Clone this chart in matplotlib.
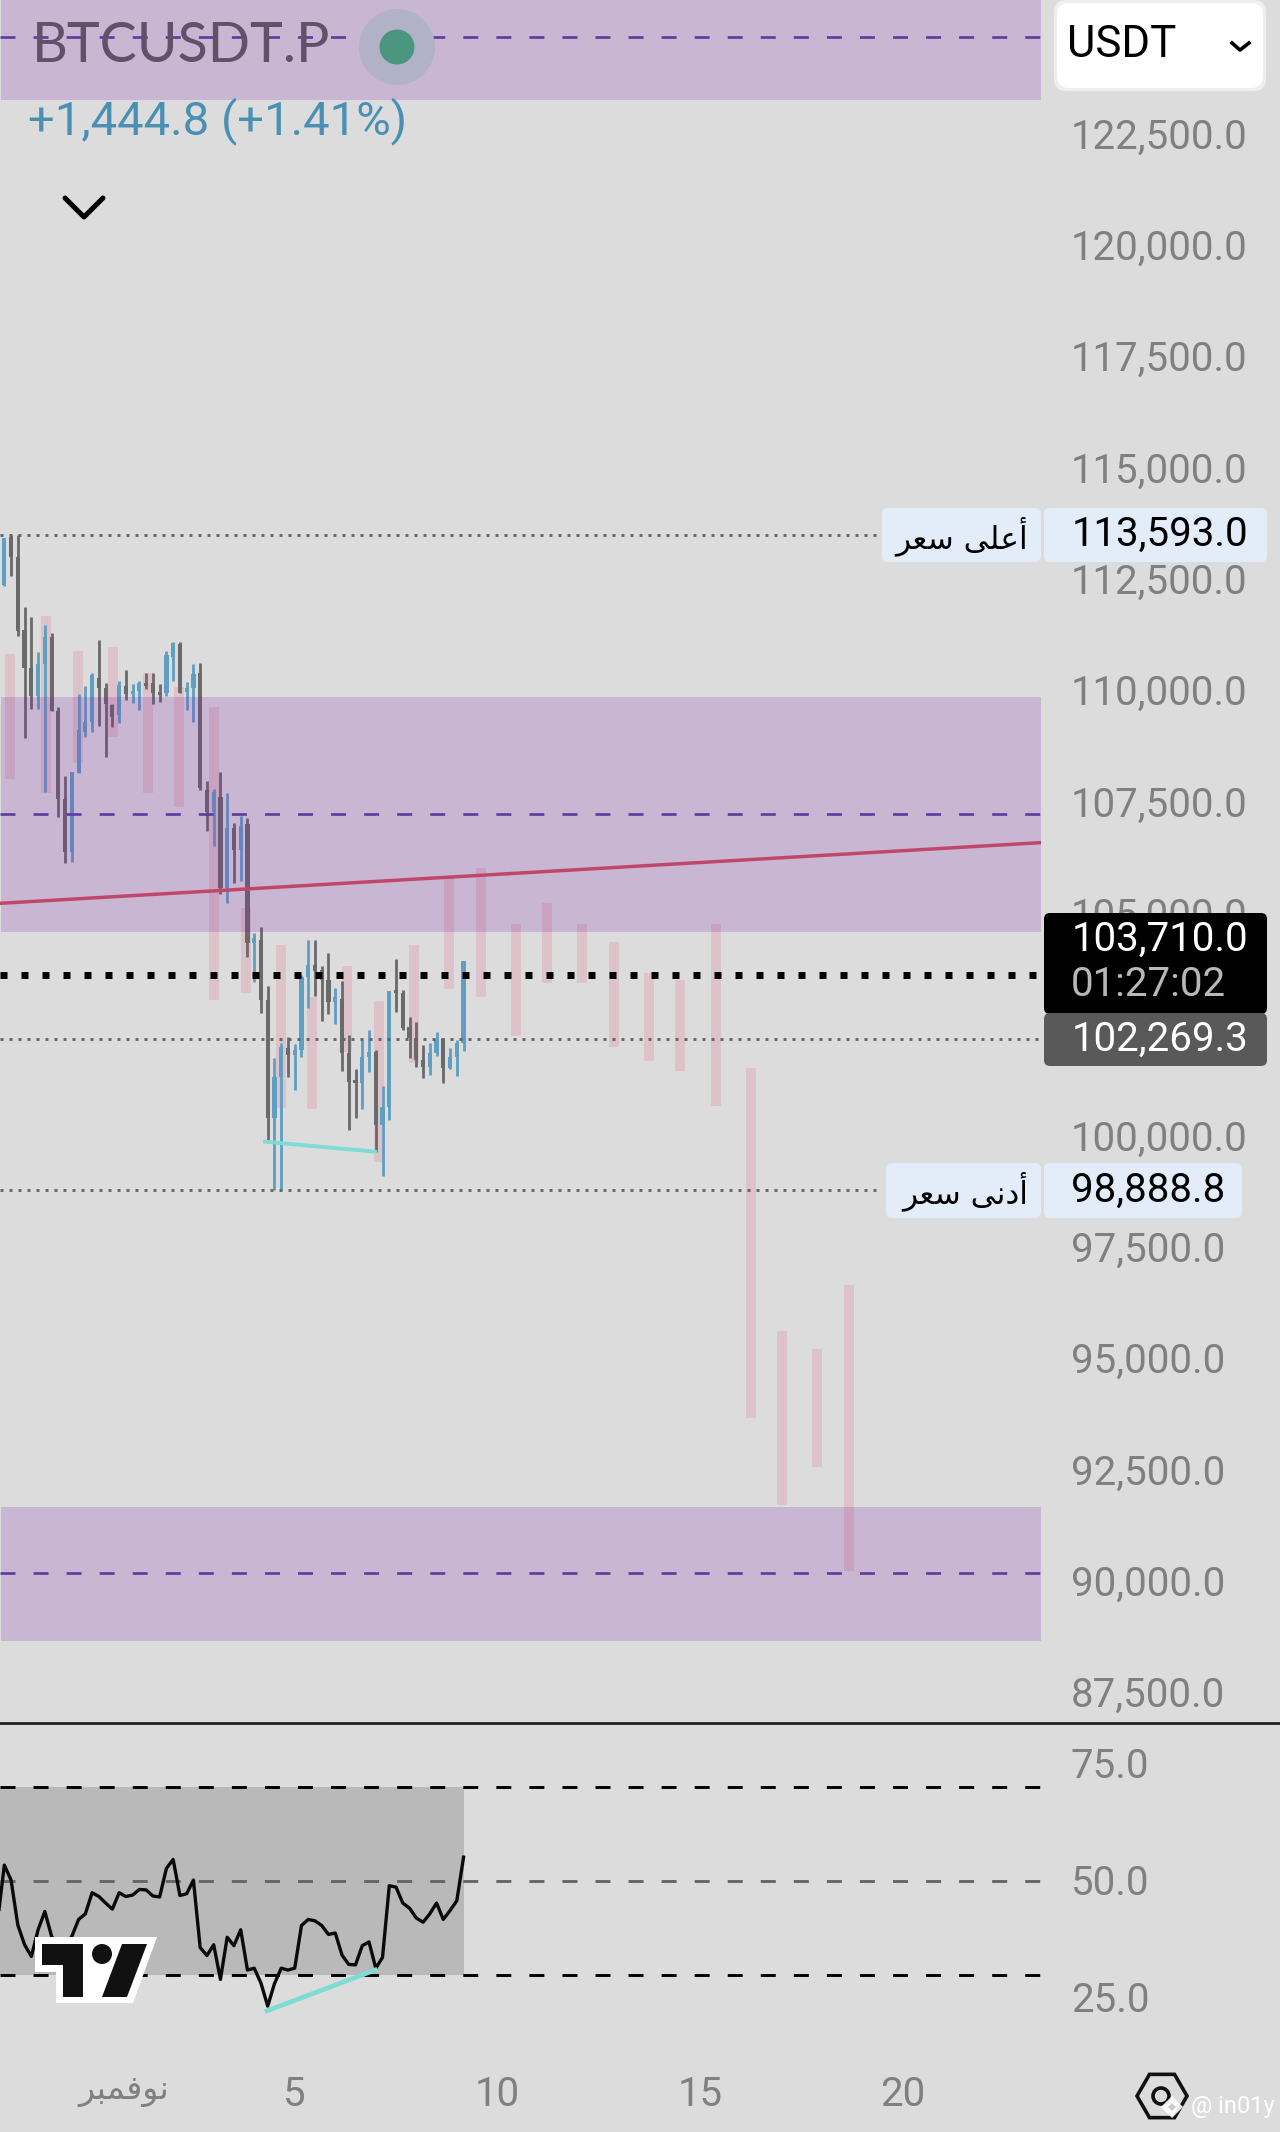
import numpy as np
import matplotlib.pyplot as plt
from matplotlib.patches import FancyBboxPatch, Circle, Polygon, RegularPolygon
from matplotlib.transforms import ScaledTranslation

plt.rcParams['font.family'] = ['Roboto', 'DejaVu Sans']
plt.rcParams['lines.scale_dashes'] = False

BG = '#dcdcdc'
ZONE = '#7d1eaa'
BLUE = '#5f9fc2'
GREY = '#6a6a6a'

# 4h candles, left to right
opens = [112471, 113556, 113092, 111461, 110600, 109979, 110690, 111311, 109650, 107659,
         106484, 108243, 109178, 109403, 110376, 110151, 109777, 109552, 110203, 110016,
         110091, 110263, 110263, 110076, 110039, 110862, 111146, 110076, 110151, 110488,
         107869, 107382, 107719, 105661, 107008, 106522, 107106, 104426, 104501, 103154,
         100498, 101433, 102069, 101919, 102032, 103663, 103940, 103828, 103603, 103117,
         103169, 101972, 101358, 101298, 101867, 101994, 100348, 100745, 103379, 103319,
         102541, 102294, 101807, 101657, 101957, 102271, 101620, 101882, 102181]
highs = [113518, 113593, 113593, 111969, 111745, 110959, 111573, 111401, 109725, 108183,
         108280, 110024, 110203, 110488, 111236, 110263, 109799, 110316, 110563, 110248,
         110308, 110488, 110488, 110248, 110989, 111184, 111199, 110301, 110697, 110712,
         108078, 107884, 108280, 107794, 107120, 107285, 107248, 104651, 104785, 103468,
         101845, 102181, 102316, 102159, 103715, 104501, 104501, 103917, 104202, 103416,
         103581, 102368, 101605, 102256, 102481, 102032, 101223, 103356, 104067, 103379,
         102780, 102653, 102144, 102181, 102428, 102294, 102084, 102256, 104030]
lows = [112456, 112680, 111333, 109044, 109695, 109695, 107831, 109650, 107270, 106223,
        106260, 108243, 109066, 109178, 109305, 108617, 109291, 109365, 109889, 109814,
        109665, 110136, 109807, 109852, 109986, 110323, 110054, 109665, 109388, 107869,
        106956, 106612, 105527, 105325, 105774, 105833, 104127, 103566, 102870, 100011,
        98889, 98889, 101433, 101134, 101882, 102982, 103244, 102690, 102840, 102615,
        101560, 100236, 100513, 100700, 101545, 99749, 99211, 100460, 102892, 102481,
        101860, 101657, 101411, 101470, 101904, 101298, 101613, 101455, 102017]
closes = [113518, 113092, 111446, 110600, 109979, 110690, 111311, 109650, 107659, 106484,
          108280, 109216, 109403, 110450, 110151, 109799, 109515, 110226, 110016, 110091,
          110263, 110211, 110039, 110001, 110899, 111161, 110054, 110151, 110473, 107906,
          107382, 107831, 105661, 107008, 106522, 107061, 104426, 104538, 103154, 100498,
          101433, 102106, 101919, 102032, 103678, 103940, 103813, 103603, 103117, 103229,
          101972, 101321, 101283, 101882, 101994, 100348, 100745, 103356, 103319, 102518,
          102294, 101807, 101657, 101957, 102271, 101620, 101882, 102181, 104030]

# pale bars from the other timeframe
pale_x = [0.9, 6.2, 10.9, 16.1, 21.3, 25.8, 31.1, 35.8, 41.0, 45.6, 50.8, 55.5, 60.7,
          65.9, 70.6, 75.8, 80.4, 85.6, 90.3, 95.5, 100.1, 105.4, 110.6, 115.2, 120.4, 125.1]
pale_top = [110922, 111775, 110997, 111086, 110488, 110188, 109740, 105220, 104389, 103229,
            103925, 103132, 104389, 105916, 106118, 104854, 105326, 104854, 104450, 103754,
            103604, 104854, 101630, 95724, 95319, 96765]
pale_bot = [108108, 107794, 108467, 109051, 107794, 107480, 103154, 103312, 100722, 100700,
            101994, 99525, 101732, 103394, 103229, 102353, 103543, 103543, 102106, 101792,
            101567, 100782, 93773, 91808, 92675, 90327]

zones = [(123359, 126000, 124774), (104674, 109964, 107323), (88764, 91772, 90279)]
trend_x = [-0.64, 153.5]
trend_y = [105325, 106688]
price_cyan_x = [38.6, 54.9]
price_cyan_y = [99974, 99749]

price_ticks = [87500, 90000, 92500, 95000, 97500, 100000, 105000, 107500, 110000,
               112500, 115000, 117500, 120000, 122500]
HIGH = 113593.0
LOW = 98888.8
LAST = 103710.0
PREV = 102269.3

# starts one bar before the first candle
rsi = [41.4, 53.4, 50.2, 40.6, 36.4, 33.9, 39.6, 43.5, 38.2, 35.4, 36.0, 38.2, 41.8, 43.0,
       47.5, 46.7, 45.3, 44.0, 47.5, 46.7, 47.0, 48.2, 48.1, 46.8, 46.6, 52.7, 54.6, 46.9,
       47.3, 50.2, 35.8, 34.1, 36.4, 29.0, 38.0, 36.2, 39.6, 31.0, 31.4, 28.2, 23.3, 28.1,
       31.4, 31.0, 31.4, 40.5, 41.8, 41.5, 40.5, 38.6, 38.9, 34.2, 32.2, 32.1, 36.2, 37.0,
       31.4, 33.7, 49.0, 48.7, 45.3, 44.2, 42.1, 41.2, 43.0, 45.3, 41.8, 43.7, 45.8, 55.1]
rsi_cyan_x = [38.9, 54.9]
rsi_cyan_y = [22.3, 31.0]
rsi_ticks = [25, 50, 75]

day_ticks = [17.7, 43, 73, 103, 133]
# نوفمبر written as shaped forms in visual order, matplotlib does not shape Arabic
day_labels = ['\ufeae\ufe92\ufee4\ufed3\ufeee\ufee7', '5', '10', '15', '20']
HIGH_TXT = '\ufeae\ufecc\ufeb3 \ufef0\ufee0\ufecb\ufe83'  # أعلى سعر
LOW_TXT = '\ufeae\ufecc\ufeb3 \ufef0\ufee7\ufea9\ufe83'  # أدنى سعر

W, H = 1280, 2132
fig = plt.figure(figsize=(W / 100, H / 100), dpi=100, facecolor=BG)


def pane(left, top, right, bottom):
    return fig.add_axes([left / W, 1 - bottom / H, (right - left) / W, (bottom - top) / H],
                        facecolor='none')


ax = pane(0, 0, 1041, 1723)
ax2 = pane(0, 1725, 1041, 2060)
for a in (ax, ax2):
    a.set_xlim(-0.64, 153.5)
    for s in a.spines.values():
        s.set_visible(False)
ax.set_ylim(86922, 125607)
ax2.set_ylim(11.8, 83.3)

o, h, l, c = map(np.array, (opens, highs, lows, closes))
xs = np.arange(len(o))
cols = np.where(c >= o, BLUE, GREY)

ax.bar(pale_x, np.array(pale_top) - np.array(pale_bot), bottom=pale_bot, width=1.48,
       color='#e91e50', alpha=0.13, zorder=2)
ax.vlines(xs, l, h, colors=cols, linewidth=2.0, zorder=3)
ax.bar(xs, np.abs(c - o), bottom=np.minimum(o, c), width=0.62, color=cols, zorder=3)

for low_z, high_z, mid_z in zones:
    ax.axhspan(low_z, high_z, xmin=0.0012, color=ZONE, alpha=0.2, lw=0, zorder=4)
    ax.axhline(mid_z, color='#5e3a9e', lw=1.9, ls=(0, (10.8, 13)), zorder=5)

ax.plot(trend_x, trend_y, color='#c0476a', lw=2.5, zorder=5)
ax.plot(price_cyan_x, price_cyan_y, color='#7fdcd4', lw=2.8, zorder=5)
for val, end in ((HIGH, 0.842), (LOW, 0.842), (PREV, 1)):
    ax.axhline(val, xmax=end, color='#666666', lw=2.1, ls=(0, (2.16, 4.32)), zorder=5)
ax.axhline(LAST, color='black', lw=5, ls=(0, (5.04, 10.08)), zorder=5)

ax.set_xticks([])
ax.set_yticks(price_ticks)
ax.set_yticklabels([f'{v:,.1f}' for v in price_ticks])
ax.tick_params(axis='y', left=False, right=False, labelleft=False, labelright=True,
               labelsize=29, labelcolor='#808080', pad=18)
for t in ax.get_yticklabels():
    t.set_ha('left')
    t.set_transform(t.get_transform() + ScaledTranslation(0, 0.055, fig.dpi_scale_trans))

# oscillator pane
rsi_x = np.arange(len(rsi)) - 1
ax2.fill_between([rsi_x[0], rsi_x[-1]], 30, 70, color='#b9b9b9', lw=0, zorder=1)
ax2.axhline(70, color='black', lw=2.1, ls=(0, (10.8, 13)), zorder=2)
ax2.axhline(30, color='black', lw=2.1, ls=(0, (10.8, 13)), zorder=2)
ax2.axhline(50, color='#666666', lw=2.1, ls=(0, (10.8, 13)), zorder=2)
ax2.plot(rsi_x, rsi, color='#0a0a0a', lw=2.4, zorder=3)
ax2.plot(rsi_cyan_x, rsi_cyan_y, color='#7fdcd4', lw=3.4, zorder=4)
ax2.set_yticks(rsi_ticks)
ax2.set_yticklabels([f'{v:.1f}' for v in rsi_ticks])
ax2.tick_params(axis='y', left=False, right=False, labelleft=False, labelright=True,
                labelsize=29, labelcolor='#808080', pad=18)
for t in ax2.get_yticklabels():
    t.set_ha('left')
    t.set_transform(t.get_transform() + ScaledTranslation(0, 0.015, fig.dpi_scale_trans))
ax2.set_xticks(day_ticks)
ax2.set_xticklabels(day_labels)
ax2.tick_params(axis='x', bottom=False, labelsize=29, labelcolor='#808080', pad=7)
ax2.get_xticklabels()[0].set_fontsize(24)

# screen furniture, in pixels
ui = fig.add_axes([0, 0, 1, 1], facecolor='none', zorder=10)
ui.set_xlim(0, W)
ui.set_ylim(H, 0)
ui.axis('off')


def box(x0, y0, x1, y1, color, r=6):
    ui.add_patch(FancyBboxPatch((x0 + r, y0 + r), x1 - x0 - 2 * r, y1 - y0 - 2 * r,
                                boxstyle=f'round,pad={r},rounding_size={r}',
                                fc=color, ec='none', mutation_aspect=1))


ui.plot([0, W], [1723, 1723], color='#222222', lw=2)

LABEL_BG = '#e3edf9'
box(882, 508, 1041, 562, LABEL_BG)
box(1044, 508, 1267, 562, LABEL_BG)
box(886, 1163, 1041, 1218, LABEL_BG)
box(1044, 1163, 1242, 1218, LABEL_BG)
box(1044, 913, 1267, 1014, 'black')
box(1044, 1013, 1267, 1066, '#595959')
ui.text(1072, 534, f'{HIGH:,.1f}', fontsize=29, color='black', va='center')
ui.text(1071, 1190, f'{LOW:,.1f}', fontsize=29, color='black', va='center')
ui.text(1072, 939, f'{LAST:,.1f}', fontsize=29, color='white', va='center')
ui.text(1071, 984, '01:27:02', fontsize=29, color='#b8b8b8', va='center')
ui.text(1072, 1039, f'{PREV:,.1f}', fontsize=29, color='white', va='center')
ui.text(1028, 536, HIGH_TXT, fontsize=22.5, color='black', va='center', ha='right', family='DejaVu Sans')
ui.text(1028, 1191, LOW_TXT, fontsize=22.5, color='black', va='center', ha='right', family='DejaVu Sans')

# header
ui.text(32, 47, 'BTCUSDT.P', fontsize=40, color='#5f5268', va='center', family='Lato')
ui.add_patch(Circle((397, 47), 38, fc='#b1b2c8', ec='none'))
ui.add_patch(Circle((397, 47), 17.5, fc='#4a967f', ec='none'))
ui.text(28, 121, '+1,444.8 (+1.41%)', fontsize=34, color='#4a90b4', va='center')
ui.plot([65, 84, 103], [198, 217, 198], color='black', lw=3.6, solid_capstyle='round')

box(1054, 0, 1266, 91, '#eeeeee', r=12)
box(1057, 3, 1263, 88, 'white', r=12)
ui.text(1067, 45, 'USDT', fontsize=31.5, color='black', va='center')
ui.plot([1232, 1240, 1249], [43, 50, 43], color='black', lw=2.6)

# tv logo
ui.add_patch(Polygon([(35, 1937), (157, 1937), (133, 2003), (56, 2003), (56, 1972), (35, 1972)],
                     fc='white', ec='none'))
ui.add_patch(Polygon([(42, 1944), (83, 1944), (83, 1997), (63, 1997), (63, 1965), (42, 1965)],
                     fc='#111111', ec='none'))
ui.add_patch(Circle((102, 1954), 10, fc='#111111', ec='none'))
ui.add_patch(Polygon([(122, 1944), (147, 1944), (127, 1997), (102, 1997)], fc='#111111', ec='none'))

# bottom right mark and watermark
ui.add_patch(RegularPolygon((1162, 2096), 6, radius=25, orientation=np.pi / 6,
                            fc='none', ec='#111111', lw=2.6))
ui.add_patch(Circle((1161, 2096), 8, fc='none', ec='#111111', lw=2.6))
ui.add_patch(RegularPolygon((1172, 2107), 4, radius=11, fc='white', ec='none', alpha=0.9))
ui.add_patch(RegularPolygon((1172, 2107), 4, radius=4, fc='#cccccc', ec='none'))
ui.text(1191, 2107, '@ in01y', fontsize=17, color='white', va='center')

fig.savefig('out.png', dpi=100, facecolor=BG)
